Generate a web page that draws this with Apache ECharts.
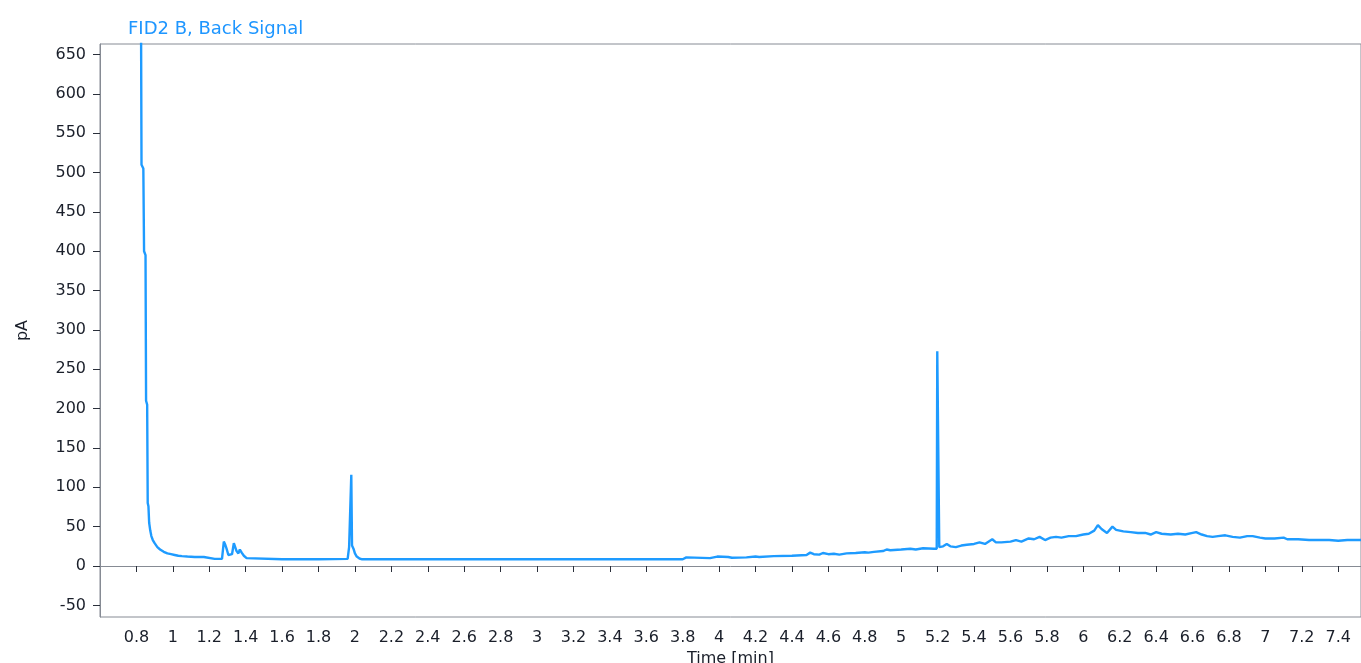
<!DOCTYPE html>
<html>
<head>
<meta charset="utf-8">
<script src="https://cdn.jsdelivr.net/npm/echarts@6/dist/echarts.min.js"></script>
<style>
html,body{margin:0;padding:0;background:#ffffff;}
#chart{width:1361px;height:663px;}
</style>
</head>
<body>
<div id="chart"></div>
<script>
var titleText = 'FID2 B, Back Signal';
var xName = 'Time [min]';
var yName = 'pA';
var xTicks = [0.8,1,1.2,1.4,1.6,1.8,2,2.2,2.4,2.6,2.8,3,3.2,3.4,3.6,3.8,4,4.2,4.4,4.6,4.8,5,5.2,5.4,5.6,5.8,6,6.2,6.4,6.6,6.8,7,7.2,7.4];
var yTicks = [-50,0,50,100,150,200,250,300,350,400,450,500,550,600,650];

var times = [0.818,0.826,0.828,0.838,0.842,0.850,0.853,0.859,0.862,0.866,0.870,0.876,0.882,0.890,0.900,0.915,0.930,0.950,0.970,0.990,1.010,1.030,1.050,1.080,1.120,1.170,1.180,1.230,1.270,
1.280,1.288,1.295,1.305,1.315,1.325,1.335,1.343,1.350,1.360,1.368,1.378,1.390,1.405,1.415,1.600,1.800,1.960,
1.968,1.975,1.980,1.984,1.992,2.000,2.010,2.025,2.040,2.400,2.800,3.200,3.600,3.800,
3.820,3.830,3.950,3.990,4.000,4.050,4.070,4.150,4.200,4.220,4.300,4.400,4.480,4.500,4.520,4.550,4.570,4.600,4.630,4.660,4.700,4.750,4.800,4.820,4.850,4.900,4.920,4.940,5.000,5.050,5.080,5.120,5.180,5.195,
5.198,5.206,5.209,5.230,5.250,5.270,5.300,5.330,5.360,5.400,5.430,5.460,5.500,5.520,5.550,5.600,5.630,5.660,5.700,5.730,5.760,5.790,5.820,5.850,5.880,5.920,5.960,
6.000,6.030,6.060,6.080,6.100,6.130,6.160,6.180,6.220,6.260,6.300,6.340,6.370,6.400,6.430,6.480,6.520,6.560,6.600,6.620,6.650,6.680,6.710,6.740,6.780,6.820,6.860,6.900,6.930,6.970,
7.000,7.050,7.100,7.120,7.180,7.240,7.300,7.350,7.400,7.450,7.540];
var signal = [1200,1200,510,505,400,395,210,205,80,76,55,45,38,33,29,24,21,18,16,15,14,13,12.5,12,11.5,11.5,9,9,9,
31,27,22,14,12,15,29,28,19,16,21,17,13,10,8.5,8.5,8.5,9,
24,26,116,26,22,16,12,9.5,8.5,8.5,8.5,8.5,8.5,8.5,
11,9.5,10,12,10.5,11.5,10.5,11,12,11.5,12.5,13,14,17,15,14.5,16.5,15,15.5,14.5,16,16.5,17.5,17,18,19,21,20,21,22,21,22.5,22,22,
273,273,24,25,28,25,24,26,27,28,30,28,34,30,30,31,33,31,35,34,37,33,36,37,36,38,38,
40,41,45,52,47,42,50,46,44,43,42,42,40,43,41,40,41,40,42,43,40,38,37,38,39,37,36,38,38,36,
35,35,36,34,34,33,33,33,32,33,33];

var data = times.map(function(t,i){return [t, signal[i]];});
var font = 'DejaVu Sans';
var chart = echarts.init(document.getElementById('chart'));
chart.setOption({
  backgroundColor:'#ffffff',
  animation:false,
  title:{text:titleText,left:123,top:15,textStyle:{color:'#1e96ff',fontFamily:font,fontSize:18,fontWeight:'normal'}},
  grid:{left:100,right:0,top:44,bottom:46,outerBoundsMode:'none',containLabel:false,show:true,borderColor:'#868b94',borderWidth:1,backgroundColor:'#ffffff'},
  xAxis:{type:'value',min:0.6,max:7.525,
    name:xName,nameLocation:'middle',nameGap:33,
    nameTextStyle:{color:'#1a1f2a',fontFamily:font,fontSize:16},
    axisLine:{show:true,lineStyle:{color:'#868b94',width:1}},
    axisTick:{show:true,length:6,customValues:xTicks,lineStyle:{color:'#2a2f3a'}},
    axisLabel:{customValues:xTicks,margin:13,color:'#1a1f2a',fontFamily:font,fontSize:16,
      formatter:function(v){return String(Math.round(v*10)/10);}},
    splitLine:{show:false}},
  yAxis:{type:'value',min:-64.8,max:663.3,
    name:yName,nameLocation:'middle',nameGap:69,nameRotate:90,
    nameTextStyle:{color:'#1a1f2a',fontFamily:font,fontSize:16},
    axisLine:{show:true,lineStyle:{color:'#868b94',width:1}},
    axisTick:{show:true,length:7,customValues:yTicks,lineStyle:{color:'#2a2f3a'}},
    axisLabel:{customValues:yTicks,margin:14,color:'#1a1f2a',fontFamily:font,fontSize:16},
    splitLine:{show:false}},
  series:[{type:'line',data:data,symbol:'none',clip:true,
    lineStyle:{color:'#1e9bff',width:2.4},itemStyle:{color:'#1e9bff'}}]
});
</script>
</body>
</html>
